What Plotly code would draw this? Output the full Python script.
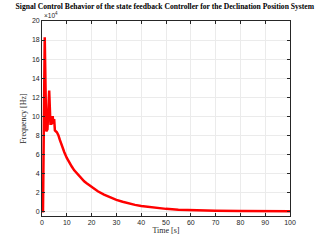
import plotly.graph_objects as go

# time [s]
t = [0, 0.4, 1.1, 1.7, 2.2, 2.9, 3.4, 3.8, 4.3, 4.6, 4.9, 5.2, 6.0, 6.6, 7.2, 8.0, 9.0, 10, 11, 12, 13, 14, 15,
     16, 17, 18, 19, 20, 22.5, 25, 27.5, 30, 32.5, 35, 37.5, 40, 45, 50, 55, 60, 70, 80, 90, 100]
# frequency [Hz] in units of 1e4
freq = [0, 0, 18.3, 8.4, 8.6, 12.7, 9.2, 9.2, 10.0, 9.2, 9.7, 8.5, 8.3, 8.0, 7.5, 6.8, 6.2, 5.6, 5.1, 4.7, 4.3, 4.0, 3.7,
        3.4, 3.15, 2.95, 2.75, 2.55, 2.1, 1.75, 1.45, 1.2, 1.0, 0.82, 0.67, 0.55, 0.37, 0.25, 0.17, 0.12, 0.06, 0.03, 0.02, 0.01]

x_ticks = list(range(0, 101, 10))
y_ticks = list(range(0, 21, 2))

fig = go.Figure()
fig.add_trace(go.Scatter(x=t, y=freq, mode="lines",
                         line=dict(color="#ff0000", width=2.5),
                         showlegend=False, hoverinfo="skip"))

axis_common = dict(showline=True, linecolor="#262626", linewidth=0.8, mirror="ticks",
                   ticks="inside", ticklen=3, tickcolor="#262626", tickwidth=0.8,
                   showgrid=True, gridcolor="#ebebeb", gridwidth=0.8, zeroline=False,
                   automargin=False,
                   tickfont=dict(family="Liberation Sans, Arial", size=7, color="#262626"))

fig.update_layout(
    width=320, height=240,
    margin=dict(l=42, r=30, t=21, b=24),
    paper_bgcolor="white", plot_bgcolor="white",
    title=dict(text="<b>Signal Control Behavior of the state feedback Controller for the Declination Position System</b>",
               x=0.515, xanchor="center", y=0.985, yanchor="top",
               font=dict(family="Liberation Serif, Times New Roman", size=7.6, color="black")),
    xaxis=dict(range=[0, 100], tickvals=x_ticks,
               title=dict(text="Time [s]", standoff=2,
                          font=dict(family="Liberation Serif, Times New Roman", size=8, color="#262626")),
               **axis_common),
    yaxis=dict(range=[-0.5, 20], tickvals=y_ticks,
               title=dict(text="Frequency [Hz]", standoff=4,
                          font=dict(family="Liberation Serif, Times New Roman", size=8, color="#262626")),
               **axis_common),
    annotations=[dict(text="\u00d710<sup>4</sup>", xref="paper", yref="paper", x=0, y=1.0,
                      xanchor="left", yanchor="bottom", showarrow=False,
                      font=dict(family="Liberation Sans, Arial", size=6.5, color="#262626"))],
)

fig.write_html("out.html", config={"displayModeBar": False},
               post_script="document.body.style.margin='0';")
